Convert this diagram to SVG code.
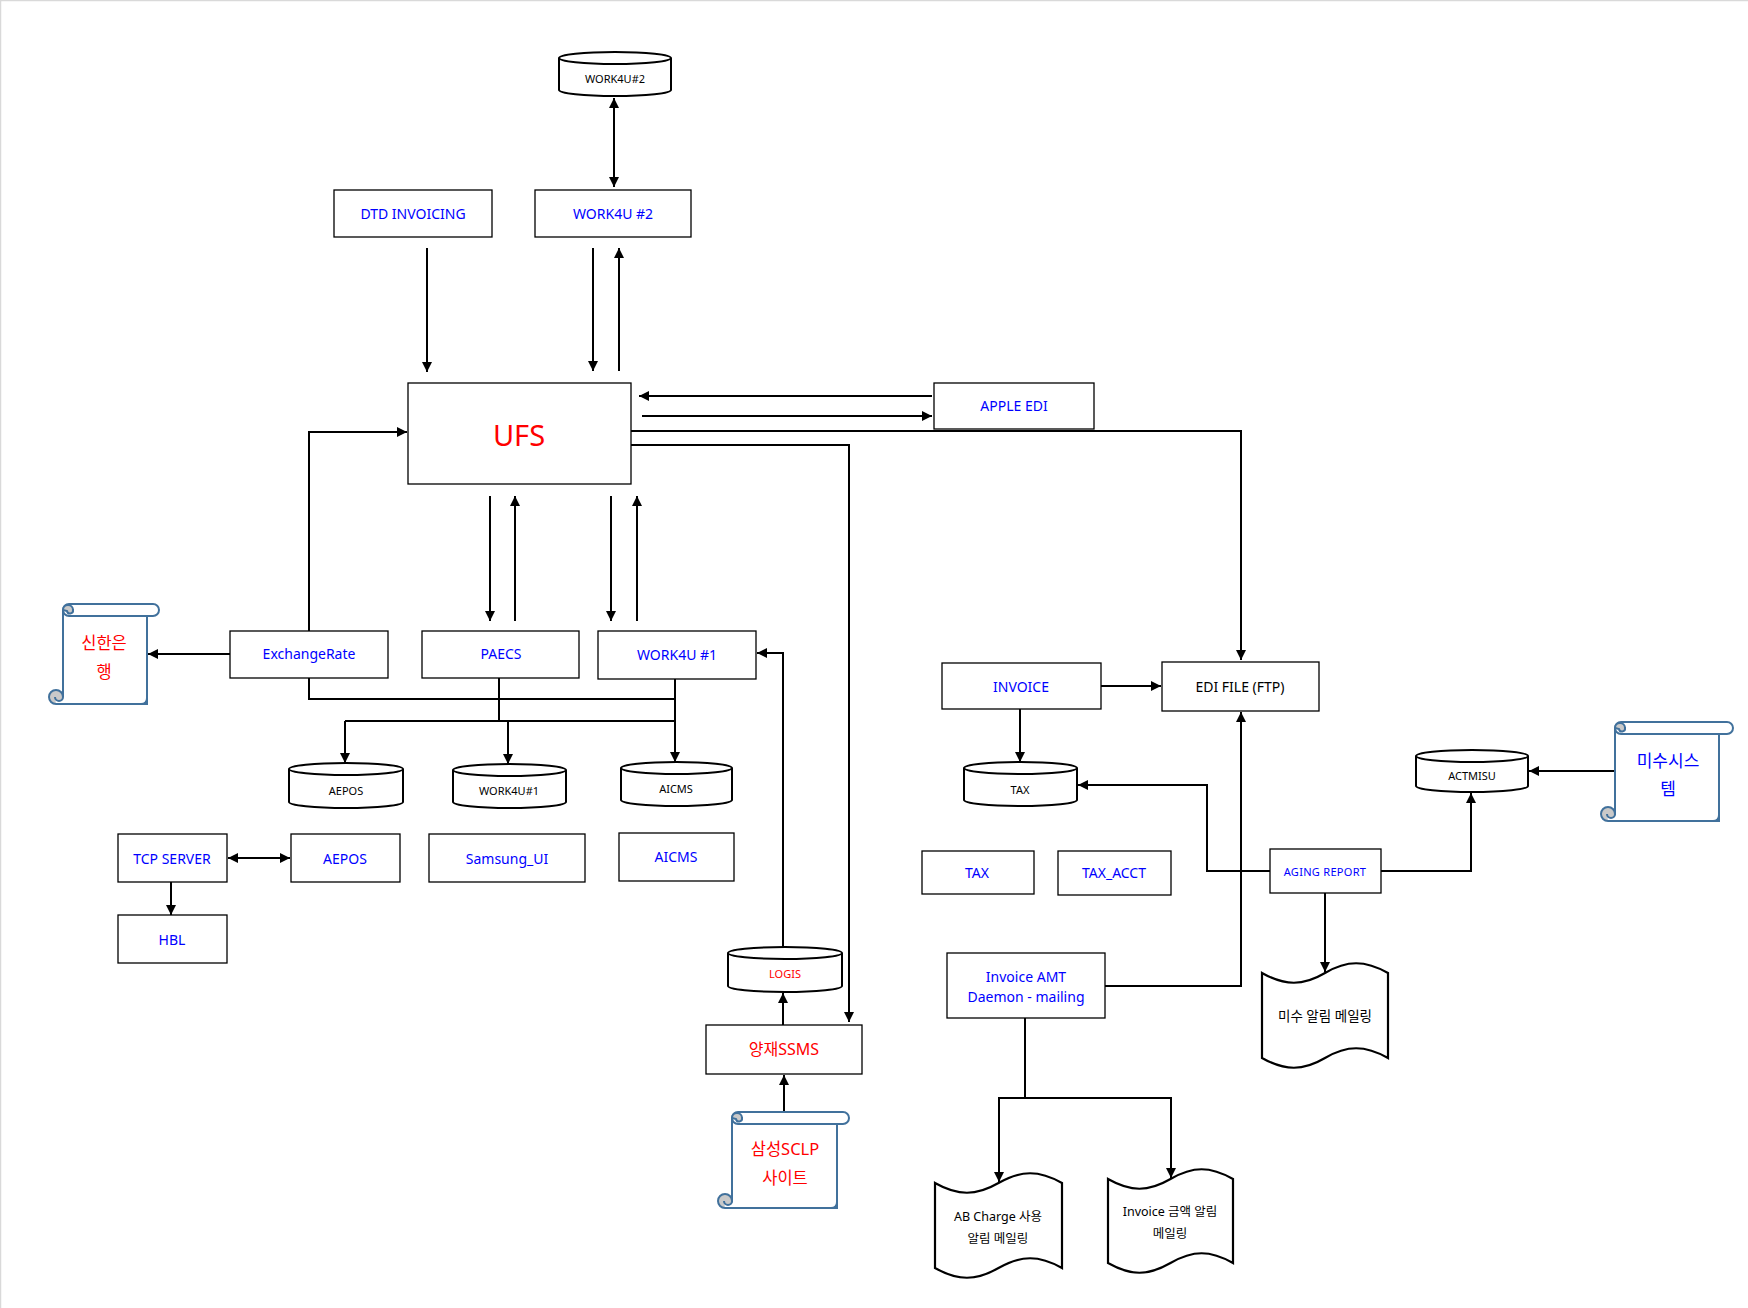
<svg xmlns="http://www.w3.org/2000/svg" width="1748" height="1308" viewBox="0 0 1748 1308">
<style>
text{font-family:"Noto Sans","Noto Sans CJK KR",sans-serif;text-anchor:middle;dominant-baseline:central}
.box{fill:#fff;stroke:#000;stroke-width:1.3}
.cyl{fill:#fff;stroke:#000;stroke-width:2}
.doc{fill:#fff;stroke:#000;stroke-width:2.2}
.scb{fill:#fff;stroke:#41719c;stroke-width:2}
.curl{fill:#c9c9c9;stroke:#41719c;stroke-width:2}
.lb{fill:#0000ff;font-size:14px}
.lr{fill:#ff0000;font-size:16px}
.lk{fill:#000;font-size:14px}
.cl{fill:#000;font-size:11px}
.dt{fill:#000;font-size:12.5px}
.sb{fill:#0000ff;font-size:17px}
.sr{fill:#ff0000;font-size:16.5px}
#conn path{fill:none;stroke:#000;stroke-width:2}
</style>
<defs>
<marker id="ah" viewBox="0 0 10 10" refX="10" refY="5" markerWidth="12" markerHeight="10" markerUnits="userSpaceOnUse" orient="auto-start-reverse">
<path d="M0,0 L10,5 L0,10 Z" fill="#000"/>
</marker>
</defs>
<rect width="1748" height="1308" fill="#fff"/>
<path d="M0,0.5 H1748 M0.5,0 V1308" stroke="#d9d9d9" stroke-width="1.5" fill="none"/>

<g id="conn">
<path d="M614,98 V187" marker-start="url(#ah)" marker-end="url(#ah)"/>
<path d="M427,248 V372" marker-end="url(#ah)"/>
<path d="M593,248 V371" marker-end="url(#ah)"/>
<path d="M619,371 V248" marker-end="url(#ah)"/>
<path d="M932,396 H639" marker-end="url(#ah)"/>
<path d="M642,416 H932" marker-end="url(#ah)"/>
<path d="M631,431 H1241 V660" marker-end="url(#ah)"/>
<path d="M631,445 H849 V1022" marker-end="url(#ah)"/>
<path d="M309,631 V432 H407" marker-end="url(#ah)"/>
<path d="M490,496 V621" marker-end="url(#ah)"/>
<path d="M515,621 V496" marker-end="url(#ah)"/>
<path d="M611,496 V621" marker-end="url(#ah)"/>
<path d="M637,621 V496" marker-end="url(#ah)"/>
<path d="M230,654 H148" marker-end="url(#ah)"/>
<path d="M309,678 V699 H675"/>
<path d="M499,678 V721"/>
<path d="M675,679 V762" marker-end="url(#ah)"/>
<path d="M345,721 H675"/>
<path d="M345,721 V763" marker-end="url(#ah)"/>
<path d="M508,721 V764" marker-end="url(#ah)"/>
<path d="M783,947 V653 H757" marker-end="url(#ah)"/>
<path d="M783,1025 V993" marker-end="url(#ah)"/>
<path d="M784,1111 V1075" marker-end="url(#ah)"/>
<path d="M228,858 H290" marker-start="url(#ah)" marker-end="url(#ah)"/>
<path d="M171,882 V915" marker-end="url(#ah)"/>
<path d="M1101,686 H1161" marker-end="url(#ah)"/>
<path d="M1020,709 V762" marker-end="url(#ah)"/>
<path d="M1270,871 H1207 V785 H1078" marker-end="url(#ah)"/>
<path d="M1105,986 H1241 V712" marker-end="url(#ah)"/>
<path d="M1381,871 H1471 V793" marker-end="url(#ah)"/>
<path d="M1615,771 H1529" marker-end="url(#ah)"/>
<path d="M1325,893 V972" marker-end="url(#ah)"/>
<path d="M1025,1018 V1098"/>
<path d="M1025,1098 H999 V1182" marker-end="url(#ah)"/>
<path d="M1025,1098 H1171 V1178" marker-end="url(#ah)"/>
</g>

<g id="cyl-work4u2">
<path class="cyl" d="M559,58 V90 A56,6 0 0 0 671,90 V58"/>
<ellipse class="cyl" cx="615" cy="58" rx="56" ry="6"/>
<text class="cl" x="615" y="78">WORK4U#2</text>
</g>
<g id="box-dtd">
<rect class="box" x="334" y="190" width="158" height="47"/>
<text class="lb" x="413" y="213">DTD INVOICING</text>
</g>
<g id="box-work4u2">
<rect class="box" x="535" y="190" width="156" height="47"/>
<text class="lb" x="613" y="213">WORK4U #2</text>
</g>
<g id="box-ufs">
<rect class="box" x="408" y="383" width="223" height="101"/>
<text x="519" y="434" style="fill:#ff0000;font-size:29px">UFS</text>
</g>
<g id="box-apple">
<rect class="box" x="934" y="383" width="160" height="46"/>
<text class="lb" x="1014" y="405">APPLE EDI</text>
</g>
<g id="box-exchangerate">
<rect class="box" x="230" y="631" width="158" height="47"/>
<text class="lb" x="309" y="653">ExchangeRate</text>
</g>
<g id="box-paecs">
<rect class="box" x="422" y="631" width="157" height="47"/>
<text class="lb" x="501" y="653">PAECS</text>
</g>
<g id="box-work4u1">
<rect class="box" x="598" y="631" width="158" height="48"/>
<text class="lb" x="677" y="654">WORK4U #1</text>
</g>
<g id="scroll-shinhan">
<rect class="scb" x="63" y="610" width="84" height="94" stroke="none"/>
<path class="scb" d="M63,616 V697 M147,616 V698 Q147,704 141,704 H56" fill="none"/>
<rect class="scb" x="63" y="604" width="96" height="12" rx="6"/>
<path class="curl" d="M63,610 A5,5 0 0 1 73,610 A3,3 0 0 1 67,611 Z"/>
<path class="curl" d="M56,704 A7,7 0 0 1 56,690 A7,7 0 0 1 63,697 A4,4 0 0 1 55,697"/>
<text class="sr" x="104" y="642">신한은</text>
<text class="sr" x="104" y="671">행</text>
</g>
<g id="cyl-aepos">
<path class="cyl" d="M289,769 V802 A57,6 0 0 0 403,802 V769"/>
<ellipse class="cyl" cx="346" cy="769" rx="57" ry="6"/>
<text class="cl" x="346" y="790">AEPOS</text>
</g>
<g id="cyl-work4u1">
<path class="cyl" d="M453,770 V802 A56.5,6 0 0 0 566,802 V770"/>
<ellipse class="cyl" cx="509.5" cy="770" rx="56.5" ry="6"/>
<text class="cl" x="509" y="790">WORK4U#1</text>
</g>
<g id="cyl-aicms">
<path class="cyl" d="M621,768 V800 A55.5,6 0 0 0 732,800 V768"/>
<ellipse class="cyl" cx="676.5" cy="768" rx="55.5" ry="6"/>
<text class="cl" x="676" y="788">AICMS</text>
</g>
<g id="box-tcp">
<rect class="box" x="118" y="834" width="109" height="48"/>
<text class="lb" x="172" y="858">TCP SERVER</text>
</g>
<g id="box-aepos">
<rect class="box" x="291" y="834" width="109" height="48"/>
<text class="lb" x="345" y="858">AEPOS</text>
</g>
<g id="box-samsungui">
<rect class="box" x="429" y="834" width="156" height="48"/>
<text class="lb" x="507" y="858">Samsung_UI</text>
</g>
<g id="box-aicms">
<rect class="box" x="619" y="833" width="115" height="48"/>
<text class="lb" x="676" y="856">AICMS</text>
</g>
<g id="box-hbl">
<rect class="box" x="118" y="915" width="109" height="48"/>
<text class="lb" x="172" y="939">HBL</text>
</g>
<g id="cyl-logis">
<path class="cyl" d="M728,953 V986 A57,6 0 0 0 842,986 V953"/>
<ellipse class="cyl" cx="785" cy="953" rx="57" ry="6"/>
<text x="785" y="973" style="fill:#ff0000;font-size:11px">LOGIS</text>
</g>
<g id="box-ssms">
<rect class="box" x="706" y="1025" width="156" height="49"/>
<text class="lr" x="784" y="1049">양재SSMS</text>
</g>
<g id="scroll-sclp">
<rect class="scb" x="732" y="1118" width="105" height="90" stroke="none"/>
<path class="scb" d="M732,1124 V1201 M837,1124 V1202 Q837,1208 831,1208 H725" fill="none"/>
<rect class="scb" x="732" y="1112" width="117" height="12" rx="6"/>
<path class="curl" d="M732,1118 A5,5 0 0 1 742,1118 A3,3 0 0 1 736,1119 Z"/>
<path class="curl" d="M725,1208 A7,7 0 0 1 725,1194 A7,7 0 0 1 732,1201 A4,4 0 0 1 724,1201"/>
<text class="sr" x="785" y="1148">삼성SCLP</text>
<text class="sr" x="785" y="1177">사이트</text>
</g>
<g id="box-invoice">
<rect class="box" x="942" y="663" width="159" height="46"/>
<text class="lb" x="1021" y="686">INVOICE</text>
</g>
<g id="box-edifile">
<rect class="box" x="1162" y="662" width="157" height="49"/>
<text class="lk" x="1240" y="686">EDI FILE (FTP)</text>
</g>
<g id="cyl-tax">
<path class="cyl" d="M964,768 V800 A56.5,6 0 0 0 1077,800 V768"/>
<ellipse class="cyl" cx="1020.5" cy="768" rx="56.5" ry="6"/>
<text class="cl" x="1020" y="789">TAX</text>
</g>
<g id="box-tax">
<rect class="box" x="922" y="851" width="112" height="43"/>
<text class="lb" x="977" y="872">TAX</text>
</g>
<g id="box-taxacct">
<rect class="box" x="1058" y="851" width="113" height="44"/>
<text class="lb" x="1114" y="872">TAX_ACCT</text>
</g>
<g id="box-aging">
<rect class="box" x="1270" y="849" width="111" height="44"/>
<text x="1325" y="871" style="fill:#0000ff;font-size:11px;letter-spacing:0.3px">AGING  REPORT</text>
</g>
<g id="cyl-actmisu">
<path class="cyl" d="M1416,756 V786 A56,6 0 0 0 1528,786 V756"/>
<ellipse class="cyl" cx="1472" cy="756" rx="56" ry="6"/>
<text class="cl" x="1472" y="775">ACTMISU</text>
</g>
<g id="scroll-misu">
<rect class="scb" x="1615" y="728" width="104" height="93" stroke="none"/>
<path class="scb" d="M1615,734 V814 M1719,734 V815 Q1719,821 1713,821 H1608" fill="none"/>
<rect class="scb" x="1615" y="722" width="118" height="12" rx="6"/>
<path class="curl" d="M1615,728 A5,5 0 0 1 1625,728 A3,3 0 0 1 1619,729 Z"/>
<path class="curl" d="M1608,821 A7,7 0 0 1 1608,807 A7,7 0 0 1 1615,814 A4,4 0 0 1 1607,814"/>
<text class="sb" x="1668" y="760">미수시스</text>
<text class="sb" x="1668" y="788">템</text>
</g>
<g id="box-invoiceamt">
<rect class="box" x="947" y="953" width="158" height="65"/>
<text class="lb" x="1026" y="976">Invoice AMT</text>
<text class="lb" x="1026" y="996">Daemon - mailing</text>
</g>
<g id="doc-misu">
<path class="doc" d="M1262,973 C1285,986 1303,986 1325,973 C1347,960 1365,960 1388,973 V1058 C1365,1045 1347,1045 1325,1058 C1303,1071 1285,1071 1262,1058 Z"/>
<text x="1325" y="1016" style="fill:#000;font-size:13.5px">미수 알림 메일링</text>
</g>
<g id="doc-abcharge">
<path class="doc" d="M935,1183 C958,1196 976,1196 998.5,1183 C1021,1170 1039,1170 1062,1183 V1268 C1039,1255 1021,1255 998.5,1268 C976,1281 958,1281 935,1268 Z"/>
<text class="dt" x="998" y="1216">AB Charge 사용</text>
<text class="dt" x="998" y="1238">알림 메일링</text>
</g>
<g id="doc-invoiceamt">
<path class="doc" d="M1108,1179 C1131,1192 1148,1192 1170.5,1179 C1193,1166 1210,1166 1233,1179 V1263 C1210,1250 1193,1250 1170.5,1263 C1148,1276 1131,1276 1108,1263 Z"/>
<text class="dt" x="1170" y="1211">Invoice 금액 알림</text>
<text class="dt" x="1170" y="1233">메일링</text>
</g>
</svg>
